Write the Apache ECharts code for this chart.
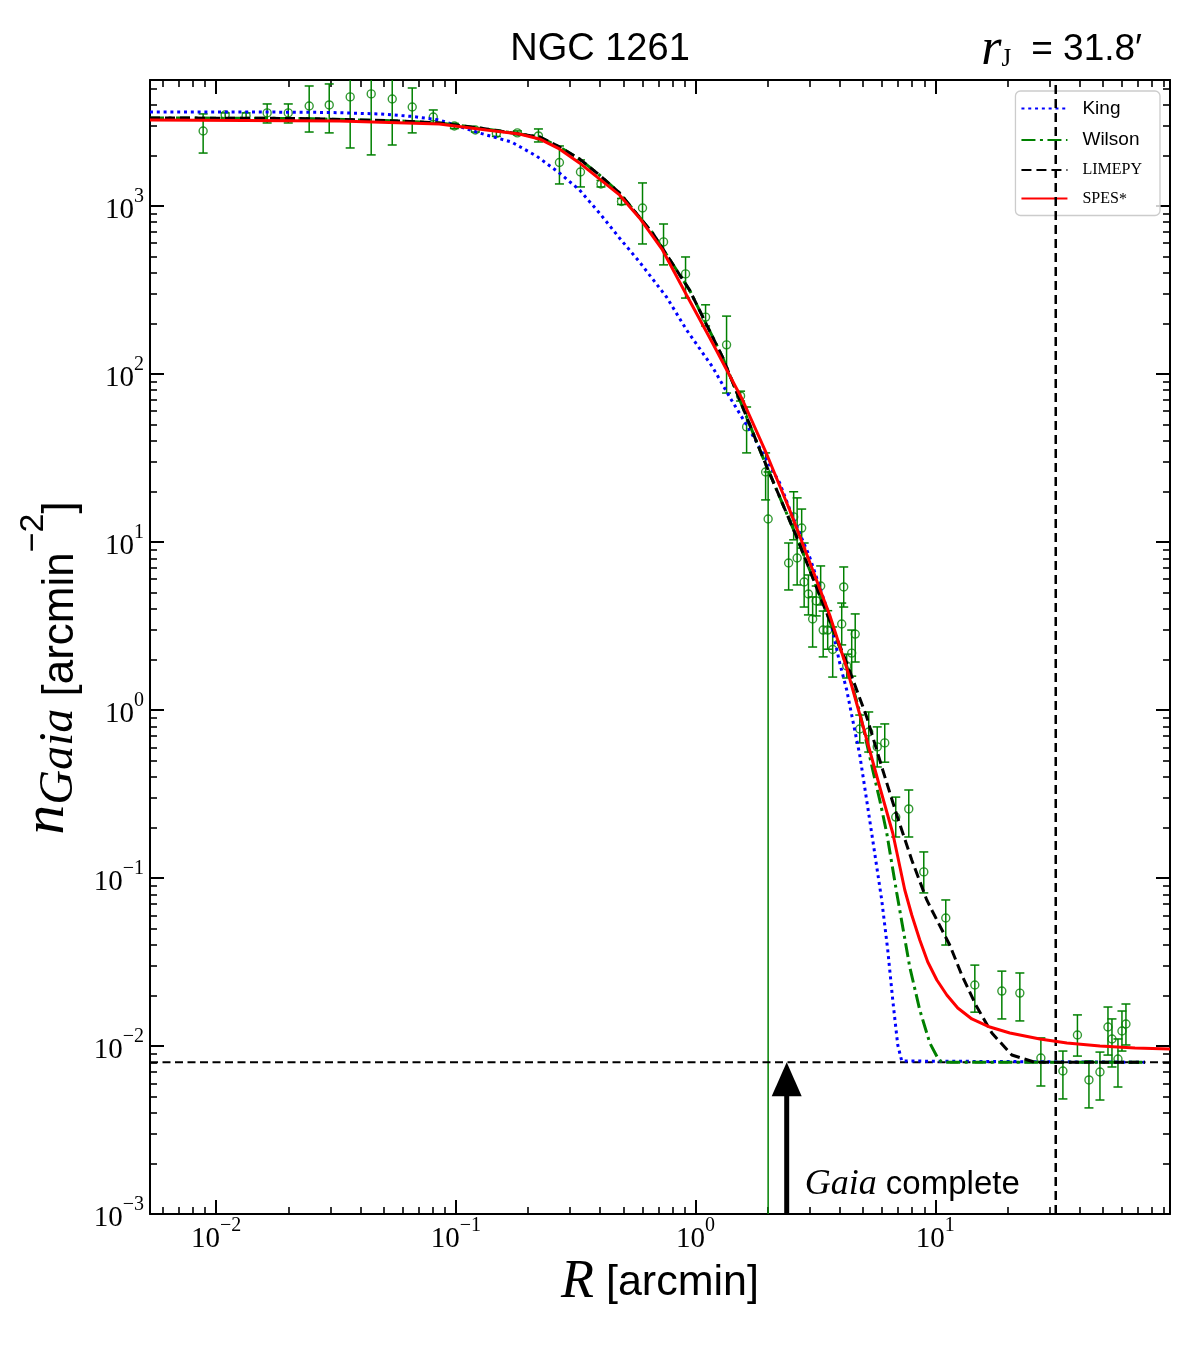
<!DOCTYPE html>
<html><head><meta charset="utf-8">
<script src="https://cdn.jsdelivr.net/npm/echarts@6/dist/echarts.min.js"></script>
<style>html,body{margin:0;padding:0;background:#fff}#c{width:1200px;height:1350px}</style>
</head><body><div id="c"></div><script>
// ---------- axis ranges & ticks ----------
const X_MIN = 0.0053, X_MAX = 95.3;
const Y_MIN = 0.001, Y_MAX = 5620;
const xMajor = [0.01, 0.1, 1, 10];
const xMinor = [0.006,0.007,0.008,0.009, 0.02,0.03,0.04,0.05,0.06,0.07,0.08,0.09,
                0.2,0.3,0.4,0.5,0.6,0.7,0.8,0.9, 2,3,4,5,6,7,8,9, 20,30,40,50,60,70,80,90];
const yMajor = [0.001, 0.01, 0.1, 1, 10, 100, 1000];
const yMinor = [0.002,0.003,0.004,0.005,0.006,0.007,0.008,0.009, 0.02,0.03,0.04,0.05,0.06,0.07,0.08,0.09,
                0.2,0.3,0.4,0.5,0.6,0.7,0.8,0.9, 2,3,4,5,6,7,8,9, 20,30,40,50,60,70,80,90,
                200,300,400,500,600,700,800,900, 2000,3000,4000,5000];

// ---------- observed profile (R [arcmin], n, lower, upper) ----------
const obsR = [0.00883,0.01091,0.01334,0.01633,0.0200,0.02445,0.02964,0.03625,0.04436,0.05429,
  0.06578,0.08053,0.0986,0.1206,0.1476,0.1806,0.2211,0.2705,0.3311,0.4031,
  0.4909,0.6008,0.7353,0.9084,1.101,1.347,1.541,1.633,1.960,2.008,
  2.566,2.771,2.445,2.653,2.838,2.957,3.079,3.186,3.326,3.407,
  3.558,3.733,4.071,4.150,4.271,4.481,4.634,4.840,5.277,5.726,
  6.154,6.841,7.752,8.954,11.06,14.62,18.95,22.53,27.57,34.07,
  39.17,43.75,48.63,52.52,54.58,57.81,60.07,62.42];
const obsN = [2794,3483,3436,3580,3580,3938,3993,4457,4645,4333,
  3883,3386,2993,2833,2703,2722,2611,1815,1593,1352,
  1063,972,611,394,218,149,74,48.4,26.1,13.7,
  14.1,12.1,7.50,8.03,5.78,4.90,3.48,4.46,5.47,2.99,
  2.99,2.29,3.25,5.40,1.83,2.18,2.83,0.771,0.740,0.603,
  0.637,0.2305,0.2576,0.1087,0.0578,0.02306,0.02123,0.02064,0.00848,0.00710,
  0.01163,0.00628,0.00700,0.01297,0.01101,0.00837,0.01228,0.01352];
const obsLo = [2065,3342,3296,3119,3119,2755,2722,2214,2013,2306,
  2722,3119,2890,2755,2594,2648,2404,1352,1298,1298,
  1020,594,446,283,193,77,69,33.9,17.8,0,
  10.3,9.2,5.18,5.55,4.10,3.68,2.37,3.63,4.22,2.07,
  2.3,1.57,2.44,4.10,1.55,1.59,1.93,0.637,0.562,0.458,
  0.489,0.1754,0.1754,0.0815,0.0399,0.0159,0.01449,0.01410,0.00578,0.00484,
  0.00871,0.00428,0.00477,0.00883,0.00750,0.00570,0.00933,0.01014];
const obsHi = [3531,3580,3580,4047,4047,5177,5323,6000,6500,6000,
  5037,3727,3100,2912,2816,2797,2873,2276,1879,1418,
  1108,1371,781,497,258,221,79,63.6,33.9,26.1,
  19.9,15.7,9.86,18.3,9.86,6.36,4.71,5.47,7.20,3.88,
  3.9,3.12,4.33,7.10,2.15,2.99,3.73,0.933,0.973,0.793,
  0.826,0.303,0.334,0.1429,0.0740,0.0303,0.0279,0.0272,0.01117,0.00933,
  0.01531,0.00815,0.00920,0.01706,0.01449,0.01101,0.01615,0.01778];

// ---------- model curves ----------
const kingR = [0.0053,0.01373,0.02963,0.04794,0.06582,0.08533,0.1253,0.1705,0.2169,0.2704,0.3280,0.3972,
  0.4815,0.5837,0.7567,0.9171,1.177,1.387,1.681,2.243,2.541,2.992,3.627,3.993,4.271,4.524,4.840,5.226,
  5.644,5.978,6.334,6.645,6.973,7.246,74.96];
const kingN = [3627,3627,3603,3529,3411,3250,2720,2404,1984,1572,1245,908,
  645,464,287,183,110,73.0,46.4,22.5,14.1,8.14,3.578,1.905,1.315,0.872,0.540,0.2646,
  0.128,0.0740,0.0373,0.01879,0.01014,0.00814,0.0080];
const wilsonR = [0.0053,0.02221,0.05807,0.08533,0.1253,0.1841,0.2232,0.2704,0.3280,0.3972,0.4815,0.6612,
  0.9438,1.296,1.905,2.641,3.524,4.271,4.840,5.483,5.866,6.273,6.907,7.825,8.616,9.486,10.24,10.65,74.96];
const wilsonN = [3341,3318,3206,3120,2913,2684,2575,2245,1905,1529,1195,691,
  316,126,32.1,10.7,3.78,1.827,0.973,0.4394,0.2912,0.1853,0.0814,0.02953,0.01638,0.01042,0.00848,0.0080,0.0080];
const limepyR = [0.0053,0.02221,0.05807,0.08533,0.1253,0.1841,0.2232,0.2704,0.3280,0.3972,0.4815,0.6612,
  0.9438,1.296,1.905,2.641,3.524,4.271,5.176,6.037,6.907,7.978,9.215,9.763,11.49,12.90,14.76,17.22,20.86,26.02,74.96];
const limepyN = [3341,3318,3206,3120,2913,2684,2575,2245,1905,1529,1195,691,
  316,126,32.1,10.7,3.78,1.905,0.9084,0.4394,0.2371,0.128,0.0740,0.0627,0.0399,0.02646,0.01754,0.01195,0.00884,0.0080,0.0080];
const spesR = [0.0053,0.03262,0.08533,0.1341,0.1841,0.2232,0.2704,0.3280,0.3972,0.4815,0.5837,0.7280,
  0.9171,1.177,1.571,1.979,2.469,2.992,3.627,4.271,4.981,5.866,6.645,7.461,7.978,8.616,9.305,10.15,11.17,
  12.41,14.21,16.89,20.47,27.31,35.4,48.63,68.08,95.3];
const spesN = [3250,3206,3077,2834,2684,2505,2184,1803,1448,1163,848,547,
  295,153,70.0,33.4,15.5,7.60,3.678,1.778,0.814,0.348,0.1853,0.0848,0.0602,0.04276,0.0316,0.0247,0.02011,
  0.01683,0.01448,0.01297,0.01195,0.0110,0.01042,0.0100,0.00973,0.0096];

// ---------- reference lines / annotations ----------
const background = 0.008;     // field density [arcmin^-2]
const rJ = 31.8;              // Jacobi radius [arcmin]
const gaiaComplete = 2.4;     // completeness radius [arcmin]

const GREEN = '#008000';
const SERIF = '"Liberation Serif", "DejaVu Serif", serif';
const SANS = '"Liberation Sans", Arial, sans-serif';

function zip(a, b) { return a.map((v, i) => [v, b[i]]); }
function powLabel(v) {
  const e = Math.round(Math.log10(v));
  return '{b|10}{s|' + (e < 0 ? '\u2212' + (-e) : e) + '}';
}
const powRich = {
  b: {fontFamily: SERIF, fontSize: 29, lineHeight: 38, verticalAlign: 'bottom', color: '#000'},
  s: {fontFamily: SERIF, fontSize: 20, lineHeight: 20, verticalAlign: 'top', color: '#000'}
};
const AX = {color: '#000', width: 2};

function xAx(position, major, showLabel, showLine) {
  return {
    type: 'log', logBase: 10, min: X_MIN, max: X_MAX, position: position, gridIndex: 0,
    axisLine: {show: showLine, onZero: false, lineStyle: AX},
    axisTick: {show: true, inside: true, length: major ? 14 : 7, customValues: major ? xMajor : xMinor,
               lineStyle: {color: '#000', width: major ? 2 : 1.6}},
    axisLabel: showLabel ? {show: true, customValues: xMajor, formatter: powLabel, rich: powRich, margin: 2} : {show: false},
    splitLine: {show: false}, minorTick: {show: false}
  };
}
function yAx(position, major, showLabel, showLine) {
  return {
    type: 'log', logBase: 10, min: Y_MIN, max: Y_MAX, position: position, gridIndex: 0,
    axisLine: {show: showLine, onZero: false, lineStyle: AX},
    axisTick: {show: true, inside: true, length: major ? 14 : 7, customValues: major ? yMajor : yMinor,
               lineStyle: {color: '#000', width: major ? 2 : 1.6}},
    axisLabel: showLabel ? {show: true, customValues: yMajor, formatter: powLabel, rich: powRich, margin: 6} : {show: false},
    splitLine: {show: false}, minorTick: {show: false}
  };
}

const errData = obsR.map((r, i) => [r, obsN[i], obsLo[i], obsHi[i]]);

const option = {
  animation: false,
  backgroundColor: '#fff',
  grid: {left: 150, right: 30, top: 80, bottom: 136, containLabel: false},
  xAxis: [xAx('bottom', true, true, true), xAx('bottom', false, false, false),
          xAx('top', true, false, true), xAx('top', false, false, false)],
  yAxis: [yAx('left', true, true, true), yAx('left', false, false, false),
          yAx('right', true, false, true), yAx('right', false, false, false)],
  legend: {
    data: ['King', 'Wilson', 'LIMEPY', 'SPES*'],
    orient: 'vertical', right: 40, top: 91,
    itemWidth: 46, itemHeight: 14, itemGap: 12.5,
    padding: [8, 18, 8, 5],
    itemStyle: {opacity: 0, borderWidth: 0},
    backgroundColor: 'rgba(255,255,255,0.8)', borderColor: '#cccccc', borderWidth: 1.3, borderRadius: 5,
    textStyle: {fontFamily: SANS, fontSize: 19, lineHeight: 14, color: '#000', padding: [0, 0, 0, 10],
      rich: {
        sf: {fontFamily: SANS, fontSize: 19, lineHeight: 14, color: '#000'},
        sc: {fontFamily: SERIF, fontSize: 16, lineHeight: 14, color: '#000'},
        st: {fontFamily: SERIF, fontSize: 16, color: '#000', verticalAlign: 'top', lineHeight: 10}
      }},
    formatter: function (name) {
      if (name === 'LIMEPY') return '{sc|LIMEPY}';
      if (name === 'SPES*') return '{sc|SPES}{st|*}';
      return '{sf|' + name + '}';
    }
  },
  graphic: [
    {type: 'text', x: 600, y: 50, z: 10,
     style: {text: 'NGC 1261', font: '38px ' + SANS, fill: '#000', align: 'center', verticalAlign: 'middle',
             textAlign: 'center', textVerticalAlign: 'middle'}},
    {type: 'text', x: 1142, y: 50, z: 10,
     style: {text: '{it|r}{sub|J}{gap| }{rm|= 31.8\u2032}', align: 'right', verticalAlign: 'middle',
             textAlign: 'right', textVerticalAlign: 'middle',
             rich: {
               it: {fontFamily: SERIF, fontStyle: 'italic', fontSize: 52, lineHeight: 44, verticalAlign: 'middle', fill: '#000'},
               sub: {fontFamily: SERIF, fontSize: 25, lineHeight: 20, verticalAlign: 'bottom', fill: '#000'},
               gap: {width: 20, fontSize: 10},
               rm: {fontFamily: SANS, fontSize: 37, lineHeight: 44, verticalAlign: 'middle', fill: '#000'}
             }}},
    {type: 'text', x: 660, y: 1283, z: 10,
     style: {text: '{it|R}{rm| [arcmin]}', align: 'center', verticalAlign: 'middle',
             textAlign: 'center', textVerticalAlign: 'middle',
             rich: {
               it: {fontFamily: SERIF, fontStyle: 'italic', fontSize: 54, lineHeight: 54, fill: '#000'},
               rm: {fontFamily: SANS, fontSize: 43, lineHeight: 54, fill: '#000'}
             }}},
    {type: 'text', x: 50, y: 668, rotation: Math.PI / 2, z: 10,
     style: {text: '{it|n}{sub|Gaia}{rm| [arcmin}{sup|\u22122}{rm|]}', align: 'center', verticalAlign: 'middle',
             textAlign: 'center', textVerticalAlign: 'middle',
             rich: {
               it: {fontFamily: SERIF, fontStyle: 'italic', fontSize: 60, lineHeight: 66, verticalAlign: 'top', fill: '#000'},
               sub: {fontFamily: SERIF, fontStyle: 'italic', fontSize: 48, lineHeight: 44, verticalAlign: 'bottom', fill: '#000'},
               rm: {fontFamily: SANS, fontSize: 44, lineHeight: 66, verticalAlign: 'bottom', fill: '#000'},
               sup: {fontFamily: SANS, fontSize: 34, lineHeight: 30, verticalAlign: 'top', fill: '#000'}
             }}}
  ],
  series: [
    {
      name: 'errbars', type: 'custom', xAxisIndex: 0, yAxisIndex: 0, z: 2, clip: true,
      encode: {x: 0, y: 1},
      data: errData,
      renderItem: function (params, api) {
        const x = api.value(0), lo = api.value(2), hi = api.value(3);
        const cs = params.coordSys;
        const pHi = api.coord([x, hi]);
        let pLo, capLo = true;
        if (lo > 0) { pLo = api.coord([x, lo]); } else { pLo = [pHi[0], cs.y + cs.height + 2]; capLo = false; }
        const w = 4.5, st = {stroke: GREEN, lineWidth: 1.5};
        const ch = [
          {type: 'line', shape: {x1: pHi[0], y1: pHi[1], x2: pLo[0], y2: pLo[1]}, style: st},
          {type: 'line', shape: {x1: pHi[0] - w, y1: pHi[1], x2: pHi[0] + w, y2: pHi[1]}, style: st}
        ];
        if (capLo) ch.push({type: 'line', shape: {x1: pLo[0] - w, y1: pLo[1], x2: pLo[0] + w, y2: pLo[1]}, style: st});
        return {type: 'group', children: ch};
      }
    },
    {
      name: 'data', type: 'scatter', xAxisIndex: 0, yAxisIndex: 0, z: 3,
      symbol: 'circle', symbolSize: 8,
      itemStyle: {color: 'rgba(0,0,0,0)', borderColor: GREEN, borderWidth: 1.4},
      data: zip(obsR, obsN)
    },
    {
      name: 'bgline', type: 'line', xAxisIndex: 0, yAxisIndex: 0, z: 4, symbol: 'none', silent: true,
      lineStyle: {color: '#000', width: 2, type: [8, 4.5]},
      data: [[X_MIN, background], [X_MAX, background]]
    },
    {
      name: 'rjline', type: 'line', xAxisIndex: 0, yAxisIndex: 0, z: 4, symbol: 'none', silent: true,
      lineStyle: {color: '#000', width: 2.5, type: [9, 5]},
      data: [[rJ, Y_MIN], [rJ, Y_MAX]]
    },
    {
      name: 'King', type: 'line', xAxisIndex: 0, yAxisIndex: 0, z: 5, symbol: 'none', clip: true,
      lineStyle: {color: '#0000ff', width: 3, type: [3, 3.8]}, itemStyle: {color: '#0000ff'},
      data: zip(kingR, kingN)
    },
    {
      name: 'Wilson', type: 'line', xAxisIndex: 0, yAxisIndex: 0, z: 6, symbol: 'none', clip: true,
      lineStyle: {color: GREEN, width: 3, type: [14, 4.5, 3, 4.5]}, itemStyle: {color: GREEN},
      data: zip(wilsonR, wilsonN)
    },
    {
      name: 'LIMEPY', type: 'line', xAxisIndex: 0, yAxisIndex: 0, z: 7, symbol: 'none', clip: true,
      lineStyle: {color: '#000', width: 3, type: [10, 5]}, itemStyle: {color: '#000'},
      data: zip(limepyR, limepyN)
    },
    {
      name: 'SPES*', type: 'line', xAxisIndex: 0, yAxisIndex: 0, z: 8, symbol: 'none', clip: true,
      lineStyle: {color: '#ff0000', width: 3, type: 'solid'}, itemStyle: {color: '#ff0000'},
      data: zip(spesR, spesN)
    },
    {
      name: 'arrow', type: 'custom', xAxisIndex: 0, yAxisIndex: 0, z: 9,
      encode: {x: 0, y: 1},
      data: [[gaiaComplete, background]],
      renderItem: function (params, api) {
        const cs = params.coordSys;
        const tip = api.coord([api.value(0), api.value(1)]);
        const bottom = cs.y + cs.height;
        const hh = 34, hw = 15;
        return {type: 'group', children: [
          {type: 'rect', shape: {x: tip[0] - 2.5, y: tip[1] + hh - 2, width: 5, height: bottom - tip[1] - hh + 2},
           style: {fill: '#000'}},
          {type: 'polygon', shape: {points: [[tip[0], tip[1]], [tip[0] - hw, tip[1] + hh], [tip[0] + hw, tip[1] + hh]]},
           style: {fill: '#000'}},
          {type: 'text', x: tip[0] + 18, y: bottom - 29,
           style: {text: '{it|Gaia}{rm| complete}', verticalAlign: 'middle', textVerticalAlign: 'middle',
                   rich: {
                     it: {fontFamily: SERIF, fontStyle: 'italic', fontSize: 36, lineHeight: 40, fill: '#000'},
                     rm: {fontFamily: SANS, fontSize: 33, lineHeight: 40, fill: '#000'}
                   }}}
        ]};
      }
    }
  ]
};
const chart = echarts.init(document.getElementById('c'));
chart.setOption(option);
</script></body></html>
